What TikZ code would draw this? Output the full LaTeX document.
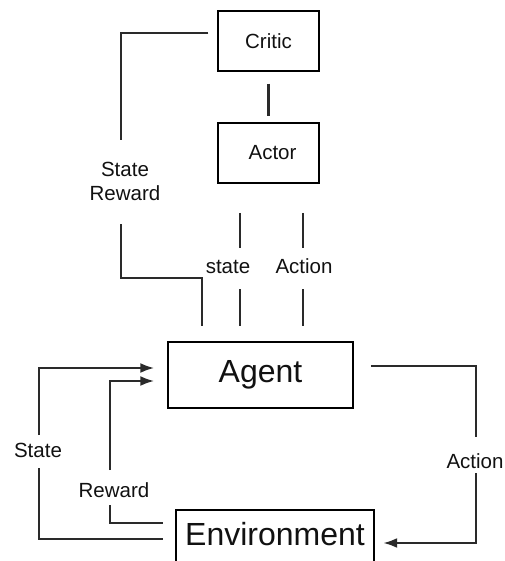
\documentclass[tikz,border=0pt]{standalone}
\usepackage{fontspec}
\setmainfont{Liberation Sans}
\usetikzlibrary{arrows.meta}
\definecolor{lncol}{HTML}{2A2A2A}
\definecolor{txcol}{HTML}{111111}
\begin{document}
\begin{tikzpicture}[x=1pt,y=-1pt,
  boxnode/.style={draw=black,line width=1.5pt,inner sep=0pt},
  conn/.style={draw=lncol,line width=2.3pt},
  arr/.style={conn,-{Latex[length=14pt,width=10pt]}},
  small/.style={font=\fontsize{20.5}{24}\selectfont,text=txcol,inner sep=0pt},
  big/.style={font=\fontsize{32}{38}\selectfont,text=txcol,inner sep=0pt}]
\useasboundingbox (0,0) rectangle (504,561);
% boxes
\node[boxnode,small,minimum width=101pt,minimum height=60pt] (critic) at (268.5,41) {Critic};
\node[boxnode,small,minimum width=101pt,minimum height=60pt] (actor) at (268.5,153) {\hspace*{8pt}Actor};
\node[boxnode,big,minimum width=185pt,minimum height=66pt] (agent) at (260.5,375) {Agent};
\node[big,minimum width=198pt,minimum height=48pt] (env) at (275,534) {Environment};
\draw[black,line width=1.5pt] ([yshift=-40pt]env.south west) -- (env.north west) -- (env.north east) -- ([yshift=-40pt]env.south east);
% labels
\node[small,align=center] (sr) at (125,181) {State\\Reward};
\node[small,anchor=base] (lstate) at (228,273) {state};
\node[small,anchor=base] (laction) at (304,273) {Action};
\node[small,anchor=base] (lS) at (38,457) {State};
\node[small,anchor=base] (lR) at (114,497) {Reward};
\node[small,anchor=base] (lA) at (475,468) {Action};
% free ends and bends
\coordinate (srTop) at (121,140);
\coordinate (srBot) at (121,224);
\coordinate (bend1) at (202,278);
\coordinate (stA) at (240,248);
\coordinate (stB) at (240,289);
\coordinate (acA) at (303,248);
\coordinate (acB) at (303,289);
\coordinate (sGapB) at (39,468);
\coordinate (sGapT) at (39,435);
\coordinate (rGapB) at (110,505);
\coordinate (rGapT) at (110,470);
\coordinate (aGapT) at (476,437);
\coordinate (aGapB) at (476,473);
% top connectors
\draw[conn] ([xshift=-9pt,yshift=8pt]critic.west) -| (srTop);
\draw[conn] (srBot) |- (bend1) -- ([xshift=-58.5pt,yshift=15pt]agent.north);
\draw[conn] ([yshift=-12pt]critic.south) -- ([yshift=6pt]actor.north);
\draw[conn] ([xshift=-28.5pt,yshift=-29pt]actor.south) -- (stA);
\draw[conn] (stB) -- ([xshift=-20.5pt,yshift=15pt]agent.north);
\draw[conn] ([xshift=34.5pt,yshift=-29pt]actor.south) -- (acA);
\draw[conn] (acB) -- ([xshift=42.5pt,yshift=15pt]agent.north);
% bottom loop
\draw[conn] ([xshift=-13pt,yshift=-5pt]env.west) -| (sGapB);
\draw[arr] (sGapT) |- ([xshift=-13pt,yshift=7pt]agent.west);
\draw[conn] ([xshift=-13pt,yshift=11pt]env.west) -| (rGapB);
\draw[arr] (rGapT) |- ([xshift=-13pt,yshift=-6pt]agent.west);
\draw[conn] ([xshift=17pt,yshift=9pt]agent.east) -| (aGapT);
\draw[arr] (aGapB) |- ([xshift=9pt,yshift=-9pt]env.east);
\end{tikzpicture}
\end{document}
